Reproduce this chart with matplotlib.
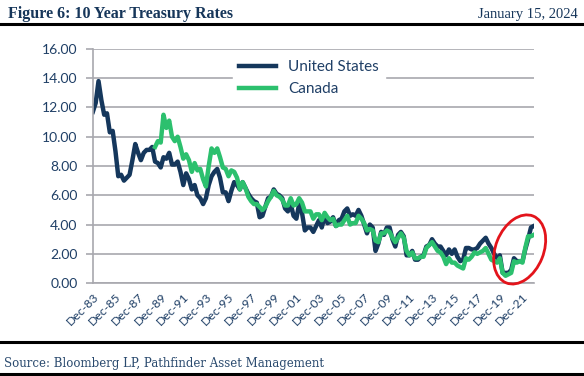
import numpy as np
import pandas as pd
import matplotlib
matplotlib.use("Agg")
import matplotlib.pyplot as plt
import matplotlib.dates as mdates
import matplotlib.transforms as mtransforms
from matplotlib.patches import Ellipse
from matplotlib.lines import Line2D

# quarterly 10y yields (%)
us_start = "1983-12-01"
us_rates = [11.7,
            12.3, 13.8, 12.5, 11.5,
            11.6, 10.3, 10.4, 9.0,
            7.3, 7.4, 7.0, 7.2,
            7.4, 8.4, 9.5, 8.9,
            8.4, 8.9, 9.1, 9.1,
            9.3, 8.3, 8.2, 7.9,
            8.6, 8.5, 8.9, 8.1,
            8.1, 8.3, 7.6, 6.7,
            7.5, 7.1, 6.4, 6.7,
            6.0, 5.8, 5.4, 5.8,
            6.7, 7.3, 7.6, 7.8,
            7.2, 6.2, 6.2, 5.6,
            6.3, 6.9, 6.7, 6.4,
            6.9, 6.5, 6.1, 5.8,
            5.6, 5.5, 4.5, 4.6,
            5.2, 5.8, 5.9, 6.4,
            6.1, 6.0, 5.8, 5.1,
            4.9, 5.4, 4.6, 4.4,
            5.4, 4.8, 3.6, 3.8,
            3.8, 3.5, 3.9, 4.3,
            3.8, 4.6, 4.1, 4.2,
            4.5, 3.9, 4.3, 4.4,
            4.9, 5.1, 4.6, 4.7,
            4.6, 5.0, 4.6, 4.0,
            3.4, 4.0, 3.8, 2.2,
            2.7, 3.5, 3.3, 3.8,
            3.8, 3.0, 2.5, 3.3,
            3.5, 3.2, 1.9, 1.9,
            2.2, 1.6, 1.6, 1.8,
            1.9, 2.5, 2.6, 3.0,
            2.7, 2.5, 2.5, 2.2,
            1.9, 2.3, 2.0, 2.3,
            1.8, 1.5, 1.6, 2.4,
            2.4, 2.3, 2.3, 2.4,
            2.7, 2.9, 3.1, 2.7,
            2.4, 2.0, 1.7, 1.9,
            0.7, 0.7, 0.7, 0.9,
            1.7, 1.5, 1.5, 1.5,
            2.3, 3.0, 3.8, 3.9]

ca_start = "1989-06-01"
ca_rates = [9.3, 9.7, 9.6,
            11.5, 10.6, 11.1, 10.0,
            9.7, 10.0, 9.3, 8.5,
            8.8, 8.4, 7.6, 8.2,
            7.7, 7.8, 7.1, 6.6,
            8.0, 9.2, 8.9, 9.2,
            8.6, 7.9, 7.8, 7.3,
            7.7, 7.6, 7.2, 6.4,
            6.9, 6.5, 5.9, 5.6,
            5.4, 5.4, 5.2, 5.0,
            5.2, 5.6, 5.9, 6.3,
            6.0, 5.9, 5.7, 5.3,
            5.3, 5.8, 5.3, 5.4,
            5.8, 5.5, 4.9, 4.9,
            4.9, 4.4, 4.7, 4.7,
            4.3, 4.8, 4.5, 4.3,
            4.4, 3.9, 4.0, 4.0,
            4.3, 4.6, 4.0, 4.1,
            4.1, 4.6, 4.4, 4.1,
            3.6, 3.7, 3.6, 2.9,
            2.8, 3.4, 3.4, 3.6,
            3.5, 3.1, 2.8, 3.1,
            3.4, 3.1, 2.2, 1.9,
            2.1, 1.7, 1.7, 1.8,
            1.8, 2.4, 2.6, 2.8,
            2.5, 2.2, 2.1, 1.8,
            1.3, 1.7, 1.4, 1.4,
            1.2, 1.1, 1.0, 1.7,
            1.6, 1.8, 2.1, 2.0,
            2.1, 2.2, 2.4, 2.0,
            1.6, 1.5, 1.4, 1.7,
            0.7, 0.5, 0.6, 0.7,
            1.5, 1.4, 1.5, 1.4,
            2.4, 3.2, 3.2, 3.3]

tick_years = list(range(1983, 2022, 2))
y_ticks = [0, 2, 4, 6, 8, 10, 12, 14, 16]

navy = "#15375C"
green = "#2CC06E"
txt = "#1F3F66"

us_dates = pd.date_range(us_start, periods=len(us_rates), freq="3MS")
ca_dates = pd.date_range(ca_start, periods=len(ca_rates), freq="3MS")

fig = plt.figure(figsize=(5.84, 3.76), dpi=100)
ax = fig.add_axes([0.159, 0.247, 0.755, 0.623])

ax.plot(us_dates, us_rates, color=navy, lw=3.2, label="United States", solid_joinstyle="round")
ax.plot(ca_dates, ca_rates, color=green, lw=3.2, label="Canada", solid_joinstyle="round")

ax.set_xlim(pd.Timestamp("1983-12-01"), pd.Timestamp("2022-12-01"))
ax.set_ylim(0, 16)
ax.set_yticks(y_ticks)
ax.set_yticklabels([f"{v:.2f}" for v in y_ticks], fontsize=10, color=txt, family="Lato")
ax.yaxis.grid(True, color="#A8A8AE", lw=1.2)
ax.set_axisbelow(True)

xt = [pd.Timestamp(f"{y}-12-01") for y in tick_years]
ax.set_xticks(xt)
ax.set_xticklabels([f"Dec-{y % 100:02d}" for y in tick_years], rotation=45, ha="right",
                   rotation_mode="anchor", fontsize=8.8, color=txt, family="Lato")
ax.tick_params(axis="x", length=0, pad=6)
ax.tick_params(axis="y", length=5, color="#A8A8AE", width=1.2, pad=6)

for s in ["top", "right"]:
    ax.spines[s].set_visible(False)
for s in ["left", "bottom"]:
    ax.spines[s].set_color("#A8A8AE")
    ax.spines[s].set_linewidth(1.2)

leg = ax.legend(loc="upper left", bbox_to_anchor=(0.30, 1.01), frameon=True,
                fancybox=False, framealpha=1, edgecolor="white", fontsize=11,
                handlelength=2.4, labelspacing=0.5, borderpad=0.4)
for t in leg.get_texts():
    t.set_color(txt)
    t.set_family("Lato")

# red ellipse around the recent rise
cx, cy = ax.transData.transform((mdates.date2num(pd.Timestamp("2021-09-01")), 2.3))
ell = Ellipse((cx, cy), width=48, height=72, angle=-22, fill=False,
              edgecolor="#E3141B", lw=2.0, transform=mtransforms.IdentityTransform(),
              clip_on=False)
fig.add_artist(ell)

# header / footer
fig.text(0.013, 0.962, "Figure 6: 10 Year Treasury Rates", fontsize=11.5, fontweight="bold",
         color="#16365A", family="Liberation Serif", va="center", ha="left")
fig.text(0.99, 0.962, "January 15, 2024", fontsize=10.5, color="#16365A",
         family="Liberation Serif", va="center", ha="right")
fig.add_artist(Line2D([0, 1], [0.937, 0.937], transform=fig.transFigure, color="black", lw=2.2))
fig.add_artist(Line2D([0, 1], [0.091, 0.091], transform=fig.transFigure, color="black", lw=2.2))
fig.add_artist(Line2D([0, 1], [0.006, 0.006], transform=fig.transFigure, color="black", lw=2.2))
fig.text(0.006, 0.032, "Source: Bloomberg LP, Pathfinder Asset Management", fontsize=8.5,
         color="#2A4A6E", family="DejaVu Serif", va="center", ha="left")

fig.savefig("out.png", dpi=100)
